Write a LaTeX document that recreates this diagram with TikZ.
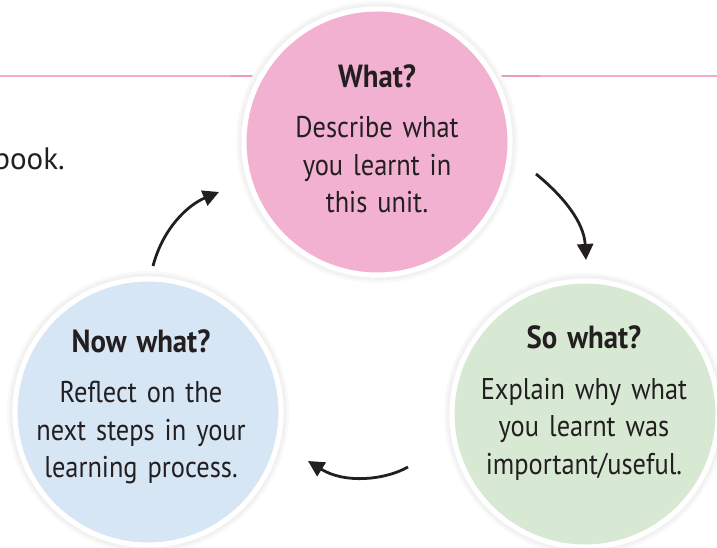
\documentclass[tikz,border=0pt]{standalone}
\usepackage{fontspec}
\setmainfont{PT Sans}
\newfontfamily\bodyf[FakeStretch=0.88]{PT Sans}
\newfontfamily\titlef[FakeStretch=0.9]{PT Sans Bold}
\usetikzlibrary{arrows.meta}
\definecolor{txt}{HTML}{231F20}
\definecolor{pinkfill}{HTML}{F3B1D1}
\definecolor{bluefill}{HTML}{D6E6F4}
\definecolor{greenfill}{HTML}{D7E9D3}
\definecolor{pinkline}{HTML}{F6A9CB}
\definecolor{pinkdark}{HTML}{EE98C0}
\tikzset{
  bubble/.style={circle, minimum size=266pt, inner sep=0pt, draw=white, line width=5pt},
  shade ring/.style={circle, minimum size=282pt, inner sep=0pt, fill=black!2.5},
  shade ring2/.style={circle, minimum size=277pt, inner sep=0pt, fill=black!5},
  label text/.style={text=txt, align=center, font=\bodyf\fontsize{30}{37.5}\selectfont, text width=240pt},
  flow/.style={draw=txt, line width=2.8pt, -{Triangle[length=16pt,width=16pt]}},
}
\newcommand{\ttl}[1]{{\titlef\fontsize{32}{30}\selectfont #1}}
\begin{document}
\begin{tikzpicture}[x=1pt,y=-1pt]
\useasboundingbox (0,0) rectangle (717,548);
% pink rule line
\draw[pinkline, line width=2pt] (0,76) -- (717,76);
\draw[pinkdark, line width=2.6pt] (231,76) -- (540,76);
% shadows
\node[shade ring] (pinkS) at (377,142) {};
\node[shade ring] (blueS) at (148,412) {};
\node[shade ring] (greenS) at (585,414) {};
\node[shade ring2] (pinkS2) at (377,142) {};
\node[shade ring2] (blueS2) at (148,412) {};
\node[shade ring2] (greenS2) at (585,414) {};
% circles
\node[bubble, fill=pinkfill] (what) at (377,142) {};
\node[bubble, fill=bluefill] (nowwhat) at (148,412) {};
\node[bubble, fill=greenfill] (sowhat) at (585,414) {};
% texts
\node[label text] (whatT) at (377,139) {\ttl{What?}\\[13pt] Describe what\\ you learnt in\\ this unit.};
\node[label text] (nowT) at (141,407) {\ttl{Now what?}\\[13pt] Reflect on the\\ next steps in your\\ learning process.};
\node[label text] (soT) at (584,403) {\ttl{So what?}\\[13pt] Explain why what\\ you learnt was\\ important/useful.};
\node[text=txt, anchor=base east, inner sep=0pt, font=\fontsize{31}{30}\selectfont] (book) at (65,170) {book.};
% arrows
\coordinate (a1s) at (153,266);
\coordinate (a1e) at (219,192);
\coordinate (a2s) at (536,174);
\coordinate (a2e) at (586,260);
\coordinate (a3s) at (408,467);
\coordinate (a3e) at (308,461);
\draw[flow] (a1s) .. controls (163,228) and (188,205) .. (a1e);
\draw[flow] (a2s) .. controls (563,196) and (584,222) .. (a2e);
\draw[flow] (a3s) .. controls (385,480) and (345,484) .. (a3e);
\end{tikzpicture}
\end{document}
